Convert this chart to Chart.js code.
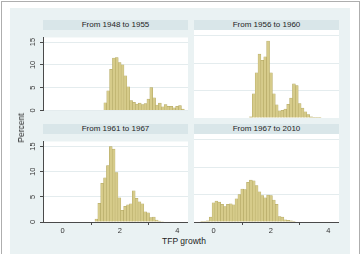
<!DOCTYPE html>
<html>
<head>
<meta charset="utf-8">
<script src="https://cdn.jsdelivr.net/npm/chart.js@4.4.1/dist/chart.umd.min.js"></script>
<style>
  html, body { margin: 0; padding: 0; background: #fff; }
  body { width: 361px; height: 254px; position: relative; overflow: hidden;
         font-family: "Liberation Sans", Arial, sans-serif; color: #222; }
  #frame { position: absolute; left: 1px; top: 1px; width: 357px; height: 252px; border: 1px solid #aeaeae; border-bottom: none; }
  #bg { position: absolute; left: 10px; top: 8px; width: 340px; height: 246px; background: #eaf2f3; }
  .hdr { position: absolute; height: 10px; background: #d9e6e9; font-size: 8px; line-height: 10px;
         text-align: center; color: #1e1e1e; white-space: nowrap; }
  .plot { position: absolute; }
  #ytitle { position: absolute; left: 21px; top: 128px; font-size: 8.5px; white-space: nowrap;
            transform: translate(-50%, -50%) rotate(-90deg); }
  #xtitle { position: absolute; left: 184px; top: 241px; font-size: 8.5px; white-space: nowrap;
            transform: translate(-50%, -50%); }
</style>
</head>
<body>
<div id="frame"></div>
<div id="bg"></div>

<div class="hdr" style="left:43px;top:20px;width:145px;">From 1948 to 1955</div>
<div class="hdr" style="left:194px;top:20px;width:145px;">From 1956 to 1960</div>
<div class="hdr" style="left:43px;top:124px;width:145px;">From 1961 to 1967</div>
<div class="hdr" style="left:194px;top:124px;width:145px;">From 1967 to 2010</div>

<div class="plot" style="left:23px;top:30px;width:165px;height:88px;"><canvas id="c1"></canvas></div>
<div class="plot" style="left:194px;top:30px;width:145px;height:88px;"><canvas id="c2"></canvas></div>
<div class="plot" style="left:23px;top:134px;width:165px;height:100px;"><canvas id="c3"></canvas></div>
<div class="plot" style="left:194px;top:134px;width:145px;height:100px;"><canvas id="c4"></canvas></div>

<div id="ytitle">Percent</div>
<div id="xtitle">TFP growth</div>

<script>
// histogram data: percent per bin (bin width 0.1), first bin lower edge per panel
var binWidth = 0.1;

var start1948 = 1.44;
var pct1948 = [1.7, 4.3, 9.0, 11.5, 11.6, 10.5, 10.0, 7.6, 5.2, 2.2, 1.8, 1.4, 1.6, 1.3,
               1.5, 2.5, 5.0, 2.8, 1.2, 1.6, 0.8, 1.3, 0.9, 0.9, 0.6, 0.9, 1.1, 0.3];

var start1956 = 1.25;
var pct1956 = [0.2, 4.4, 8.2, 11.6, 10.5, 11.1, 14.0, 8.2, 4.4, 2.4, 1.3, 1.4, 1.6, 2.5,
               3.6, 6.2, 5.9, 2.6, 1.8, 1.1, 0.6, 0.2, 0.1, 0.1, 0.1];

var start1961 = 1.13;
var pct1961 = [0.6, 3.7, 7.7, 8.8, 11.2, 15.0, 14.5, 9.8, 4.8, 2.3, 3.1, 3.4, 3.6, 6.2,
               4.7, 4.0, 3.6, 2.0, 1.8, 0.9, 1.0, 0.4, 0.2, 0.1];

var start1967 = -0.45;
var pct1967 = [0.1, 0.1, 0.2, 0.9, 3.5, 3.8, 3.6, 3.2, 2.8, 3.2, 3.3, 3.1, 4.2, 5.0,
               6.0, 5.9, 7.2, 7.6, 7.5, 6.6, 5.5, 4.8, 4.4, 4.9, 4.8, 4.0, 3.2, 1.0,
               0.9, 0.4, 0.3, 0.2, 0.1];

var xTicks = [0, 2, 4];
var yTicks = [0, 5, 10, 15];
var xMin = -0.68, xMax = 4.37;
var yMin = 0, yMax = 16;

var barFill = "rgb(214,203,138)";
var barLine = "rgb(176,165,96)";
var gridColor = "#e4ecee";
var axisColor = "#4a4a4a";

function toPoints(start, values) {
  return values.map(function (v, i) {
    return { x: start + binWidth * (i + 0.5), y: v };
  });
}

var plotBg = {
  id: "plotBg",
  beforeDraw: function (chart) {
    var a = chart.chartArea, ctx = chart.ctx;
    ctx.save();
    ctx.fillStyle = "#ffffff";
    ctx.fillRect(a.left, a.top, a.right - a.left, a.bottom - a.top);
    ctx.restore();
  }
};

function makePanel(id, start, values, showY, showX) {
  var tickFont = { family: "'Liberation Sans', Arial, sans-serif", size: 7.5 };
  return new Chart(document.getElementById(id), {
    type: "bar",
    data: {
      datasets: [{
        data: toPoints(start, values),
        backgroundColor: barFill,
        borderColor: barLine,
        borderWidth: 0.5,
        barPercentage: 1,
        categoryPercentage: 1
      }]
    },
    options: {
      responsive: true,
      maintainAspectRatio: false,
      animation: false,
      events: [],
      layout: { padding: 0, autoPadding: false },
      plugins: { legend: { display: false }, tooltip: { enabled: false } },
      scales: {
        x: {
          type: "linear",
          min: xMin, max: xMax,
          offset: false,
          afterBuildTicks: function (s) { s.ticks = xTicks.map(function (v) { return { value: v }; }); },
          afterFit: function (s) { s.height = showX ? 12 : 0; },
          grid: { display: showX, drawOnChartArea: false, drawTicks: showX, tickLength: 3, tickColor: axisColor },
          border: { display: showX, color: axisColor, width: 1 },
          ticks: { display: showX, padding: 1, color: "#333", font: tickFont, maxRotation: 0, autoSkip: false }
        },
        y: {
          min: yMin, max: yMax,
          afterBuildTicks: function (s) { s.ticks = yTicks.map(function (v) { return { value: v }; }); },
          afterFit: function (s) { s.width = showY ? 20 : 0; },
          grid: { color: gridColor, lineWidth: 1, drawTicks: showY, tickLength: 3, tickColor: axisColor },
          border: { display: showY, color: axisColor, width: 1 },
          ticks: { display: showY, padding: 3, color: "#333", font: tickFont,
                   minRotation: 90, maxRotation: 90, crossAlign: "center", autoSkip: false }
        }
      }
    },
    plugins: [plotBg]
  });
}

makePanel("c1", start1948, pct1948, true, false);
makePanel("c2", start1956, pct1956, false, false);
makePanel("c3", start1961, pct1961, true, true);
makePanel("c4", start1967, pct1967, false, true);
</script>
</body>
</html>
